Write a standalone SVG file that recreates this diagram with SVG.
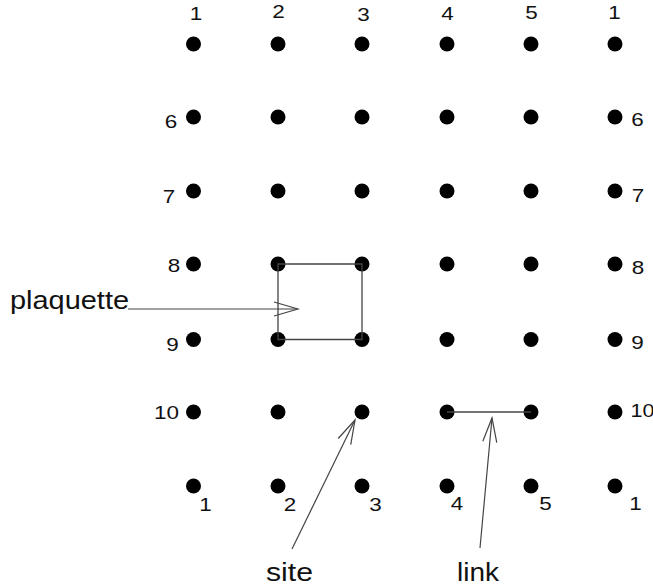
<svg xmlns="http://www.w3.org/2000/svg" width="653" height="588" viewBox="0 0 653 588">
  <style>
    text { font-family: "Liberation Sans", Arial, Helvetica, sans-serif; fill: #111; }
    .idx { font-size: 19px; text-anchor: middle; }
    .lbl { font-size: 26px; }
    .site { fill: #000; }
    .edge { stroke: #444; stroke-width: 1.3; fill: none; }
    .ptr { stroke: #444; stroke-width: 1.2; fill: none; }
  </style>
  <defs>
    <marker id="openArrow" viewBox="-26 -9 28 18" refX="0" refY="0" markerWidth="28" markerHeight="18" markerUnits="userSpaceOnUse" orient="auto">
      <path d="M-24,-7 L0,0 L-24,7" stroke="#444" stroke-width="1.2" fill="none"/>
    </marker>
  </defs>

  <rect width="653" height="588" fill="#fff"/>

  <!-- lattice sites: columns 1..5 then periodic 1; rows 1, 6..10, then periodic 1 -->
  <g id="sites">
    <g id="row-top">
      <circle class="site" cx="193.5" cy="44" r="7.5"/>
      <circle class="site" cx="278" cy="44" r="7.5"/>
      <circle class="site" cx="362" cy="44" r="7.5"/>
      <circle class="site" cx="447" cy="44" r="7.5"/>
      <circle class="site" cx="531" cy="44" r="7.5"/>
      <circle class="site" cx="615" cy="44" r="7.5"/>
    </g>
    <g id="row-6">
      <circle class="site" cx="193.5" cy="117" r="7.5"/>
      <circle class="site" cx="278" cy="117" r="7.5"/>
      <circle class="site" cx="362" cy="117" r="7.5"/>
      <circle class="site" cx="447" cy="117" r="7.5"/>
      <circle class="site" cx="531" cy="117" r="7.5"/>
      <circle class="site" cx="615" cy="117" r="7.5"/>
    </g>
    <g id="row-7">
      <circle class="site" cx="193.5" cy="191" r="7.5"/>
      <circle class="site" cx="278" cy="191" r="7.5"/>
      <circle class="site" cx="362" cy="191" r="7.5"/>
      <circle class="site" cx="447" cy="191" r="7.5"/>
      <circle class="site" cx="531" cy="191" r="7.5"/>
      <circle class="site" cx="615" cy="191" r="7.5"/>
    </g>
    <g id="row-8">
      <circle class="site" cx="193.5" cy="264" r="7.5"/>
      <circle class="site" cx="278" cy="264" r="7.5"/>
      <circle class="site" cx="362" cy="264" r="7.5"/>
      <circle class="site" cx="447" cy="264" r="7.5"/>
      <circle class="site" cx="531" cy="264" r="7.5"/>
      <circle class="site" cx="615" cy="264" r="7.5"/>
    </g>
    <g id="row-9">
      <circle class="site" cx="193.5" cy="339.5" r="7.5"/>
      <circle class="site" cx="278" cy="339.5" r="7.5"/>
      <circle class="site" cx="362" cy="339.5" r="7.5"/>
      <circle class="site" cx="447" cy="339.5" r="7.5"/>
      <circle class="site" cx="531" cy="339.5" r="7.5"/>
      <circle class="site" cx="615" cy="339.5" r="7.5"/>
    </g>
    <g id="row-10">
      <circle class="site" cx="193.5" cy="412" r="7.5"/>
      <circle class="site" cx="278" cy="412" r="7.5"/>
      <circle class="site" cx="362" cy="412" r="7.5"/>
      <circle class="site" cx="447" cy="412" r="7.5"/>
      <circle class="site" cx="531" cy="412" r="7.5"/>
      <circle class="site" cx="615" cy="412" r="7.5"/>
    </g>
    <g id="row-bottom">
      <circle class="site" cx="193.5" cy="486" r="7.5"/>
      <circle class="site" cx="278" cy="486" r="7.5"/>
      <circle class="site" cx="362" cy="486" r="7.5"/>
      <circle class="site" cx="447" cy="486" r="7.5"/>
      <circle class="site" cx="531" cy="486" r="7.5"/>
      <circle class="site" cx="615" cy="486" r="7.5"/>
    </g>
  </g>

  <!-- index labels (digits slightly widened) -->
  <g id="col-labels-top" class="idx">
    <text x="196" y="20" textLength="12.5" lengthAdjust="spacingAndGlyphs">1</text>
    <text x="278.5" y="18" textLength="12.5" lengthAdjust="spacingAndGlyphs">2</text>
    <text x="363.5" y="20.5" textLength="12.5" lengthAdjust="spacingAndGlyphs">3</text>
    <text x="447.5" y="20" textLength="12.5" lengthAdjust="spacingAndGlyphs">4</text>
    <text x="531.5" y="19" textLength="12.5" lengthAdjust="spacingAndGlyphs">5</text>
    <text x="614.5" y="19" textLength="12.5" lengthAdjust="spacingAndGlyphs">1</text>
  </g>
  <g id="row-labels-left" class="idx">
    <text x="171" y="128" textLength="12.5" lengthAdjust="spacingAndGlyphs">6</text>
    <text x="169" y="203" textLength="12.5" lengthAdjust="spacingAndGlyphs">7</text>
    <text x="174" y="272" textLength="12.5" lengthAdjust="spacingAndGlyphs">8</text>
    <text x="172.5" y="351" textLength="12.5" lengthAdjust="spacingAndGlyphs">9</text>
    <text x="166.5" y="419" textLength="25" lengthAdjust="spacingAndGlyphs">10</text>
  </g>
  <g id="row-labels-right" class="idx">
    <text x="637.5" y="126" textLength="12.5" lengthAdjust="spacingAndGlyphs">6</text>
    <text x="638" y="202" textLength="12.5" lengthAdjust="spacingAndGlyphs">7</text>
    <text x="638" y="274" textLength="12.5" lengthAdjust="spacingAndGlyphs">8</text>
    <text x="637.5" y="349" textLength="12.5" lengthAdjust="spacingAndGlyphs">9</text>
    <text x="642.5" y="417" textLength="24" lengthAdjust="spacingAndGlyphs">10</text>
  </g>
  <g id="col-labels-bottom" class="idx">
    <text x="205.5" y="511" textLength="12.5" lengthAdjust="spacingAndGlyphs">1</text>
    <text x="290" y="511" textLength="12.5" lengthAdjust="spacingAndGlyphs">2</text>
    <text x="375.5" y="511" textLength="12.5" lengthAdjust="spacingAndGlyphs">3</text>
    <text x="457" y="510" textLength="12.5" lengthAdjust="spacingAndGlyphs">4</text>
    <text x="545.5" y="510" textLength="12.5" lengthAdjust="spacingAndGlyphs">5</text>
    <text x="635.5" y="510" textLength="12.5" lengthAdjust="spacingAndGlyphs">1</text>
  </g>

  <!-- connectors: plaquette boundary, link, and annotation pointers -->
  <g id="connectors">
    <path id="plaquette-edge" class="edge" d="M278,264 H362 V339.5 H278 Z"/>
    <line id="link-edge" class="edge" x1="447" y1="412" x2="531" y2="412"/>
    <line id="plaquette-pointer" class="ptr" x1="128" y1="309" x2="298" y2="309" marker-end="url(#openArrow)"/>
    <line id="site-pointer" class="ptr" x1="292" y1="549" x2="355" y2="420" marker-end="url(#openArrow)"/>
    <line id="link-pointer" class="ptr" x1="480" y1="548" x2="492" y2="418" marker-end="url(#openArrow)"/>
  </g>

  <!-- annotation labels -->
  <g id="annotations" class="lbl">
    <text x="10" y="309" textLength="119" lengthAdjust="spacingAndGlyphs">plaquette</text>
    <text x="266" y="581" textLength="47" lengthAdjust="spacingAndGlyphs">site</text>
    <text x="457" y="581" textLength="42" lengthAdjust="spacingAndGlyphs">link</text>
  </g>
</svg>
